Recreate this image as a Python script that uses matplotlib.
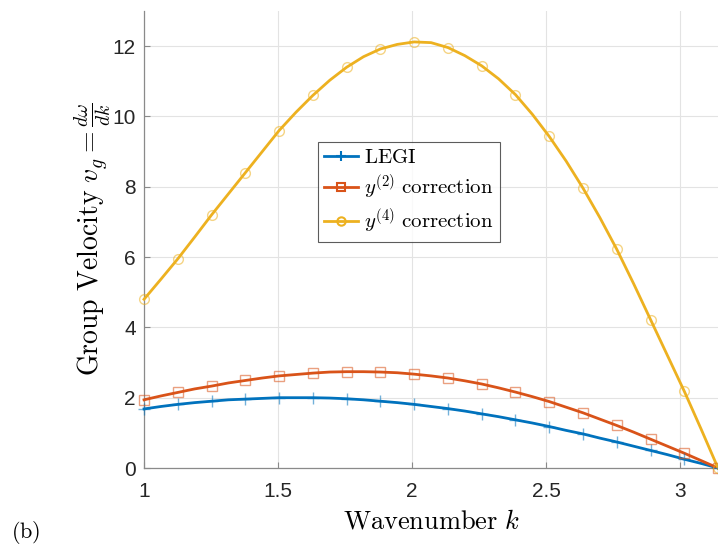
import numpy as np
import matplotlib
matplotlib.use('Agg')
import matplotlib.pyplot as plt
from matplotlib.lines import Line2D

plt.rcParams['mathtext.fontset'] = 'cm'
plt.rcParams['font.family'] = ['Liberation Sans', 'DejaVu Sans']

# wavenumber samples (1 .. pi)
k = [1.000, 1.063, 1.126, 1.189, 1.252, 1.315, 1.378, 1.441, 1.504, 1.567,
     1.630, 1.693, 1.756, 1.819, 1.882, 1.945, 2.008, 2.071, 2.134, 2.197,
     2.260, 2.323, 2.386, 2.449, 2.512, 2.575, 2.638, 2.701, 2.764, 2.827,
     2.890, 2.953, 3.016, 3.079, 3.1416]

legi = [1.68, 1.75, 1.81, 1.86, 1.90, 1.94, 1.96, 1.98, 2.00, 2.00,
        2.00, 1.99, 1.97, 1.94, 1.90, 1.86, 1.81, 1.75, 1.69, 1.62,
        1.54, 1.46, 1.37, 1.28, 1.18, 1.07, 0.97, 0.85, 0.74, 0.62,
        0.50, 0.38, 0.25, 0.13, 0.00]

y2 = [1.94, 2.05, 2.15, 2.25, 2.33, 2.42, 2.49, 2.56, 2.62, 2.66,
      2.70, 2.73, 2.74, 2.74, 2.73, 2.71, 2.67, 2.62, 2.56, 2.48,
      2.39, 2.28, 2.16, 2.03, 1.89, 1.73, 1.57, 1.39, 1.21, 1.02,
      0.82, 0.62, 0.42, 0.21, 0.00]

y4 = [4.80, 5.37, 5.95, 6.57, 7.20, 7.80, 8.40, 9.00, 9.60, 10.12,
      10.60, 11.03, 11.40, 11.70, 11.92, 12.05, 12.12, 12.10, 11.96, 11.73,
      11.44, 11.07, 10.62, 10.06, 9.43, 8.73, 7.96, 7.12, 6.22, 5.24,
      4.22, 3.20, 2.18, 1.10, 0.00]

labels = [r'$\mathrm{LEGI}$', r'$y^{(2)}\ \mathrm{correction}$', r'$y^{(4)}\ \mathrm{correction}$']
colors = ['#0072BD', '#D95319', '#EDB120']
markers = ['+', 's', 'o']
msizes = [8, 6.5, 7]

fig = plt.figure(figsize=(7.18, 5.47), dpi=100)
ax = fig.add_axes([0.2006, 0.1444, 0.7994, 0.8355])

handles = []
for ys, c, m, ms, lab in zip([legi, y2, y4], colors, markers, msizes, labels):
    ax.plot(k, ys, color=c, lw=2.0, zorder=3, clip_on=False)
    ax.plot(k[::2], ys[::2], ls='none', marker=m, ms=ms, mfc='none',
            mec=c, mew=1.0, alpha=0.55, zorder=4, clip_on=False)
    handles.append(Line2D([], [], color=c, lw=2.0, marker=m, ms=ms - 1,
                          mfc='none', mec=c, mew=1.5, label=lab))

ax.set_xlim(1, np.pi)
ax.set_ylim(0, 13)
ax.set_xticks([1, 1.5, 2, 2.5, 3])
ax.set_xticklabels(['1', '1.5', '2', '2.5', '3'])
ax.set_yticks([0, 2, 4, 6, 8, 10, 12])

ax.grid(True, color='#e3e3e3', lw=0.8)
ax.set_axisbelow(True)
for s in ['top', 'right']:
    ax.spines[s].set_visible(False)
for s in ['left', 'bottom']:
    ax.spines[s].set_color('#8a8a8a')
    ax.spines[s].set_linewidth(0.9)
ax.tick_params(direction='in', length=4, width=0.8, colors='#8a8a8a',
               labelcolor='#262626', labelsize=15)
ax.tick_params(axis='x', pad=10)
ax.tick_params(axis='y', pad=6)

ax.set_xlabel(r'$\mathrm{Wavenumber}\ k$', fontsize=19, labelpad=6)
ax.set_ylabel(r'$\mathrm{Group\ Velocity}\ v_g = \frac{d\omega}{dk}$', fontsize=20, labelpad=-1)

leg = ax.legend(handles=handles, loc='upper left', bbox_to_anchor=(0.443, 0.740),
                bbox_transform=fig.transFigure, fontsize=15, frameon=True,
                fancybox=False, handlelength=1.6, handletextpad=0.3,
                borderpad=0.3, labelspacing=0.25, borderaxespad=0)
leg.get_frame().set_edgecolor('#333333')
leg.get_frame().set_linewidth(0.8)

fig.text(0.015, 0.026, r'$\mathrm{(b)}$', fontsize=16, va='center', ha='left')

fig.savefig('out.png', dpi=100)
